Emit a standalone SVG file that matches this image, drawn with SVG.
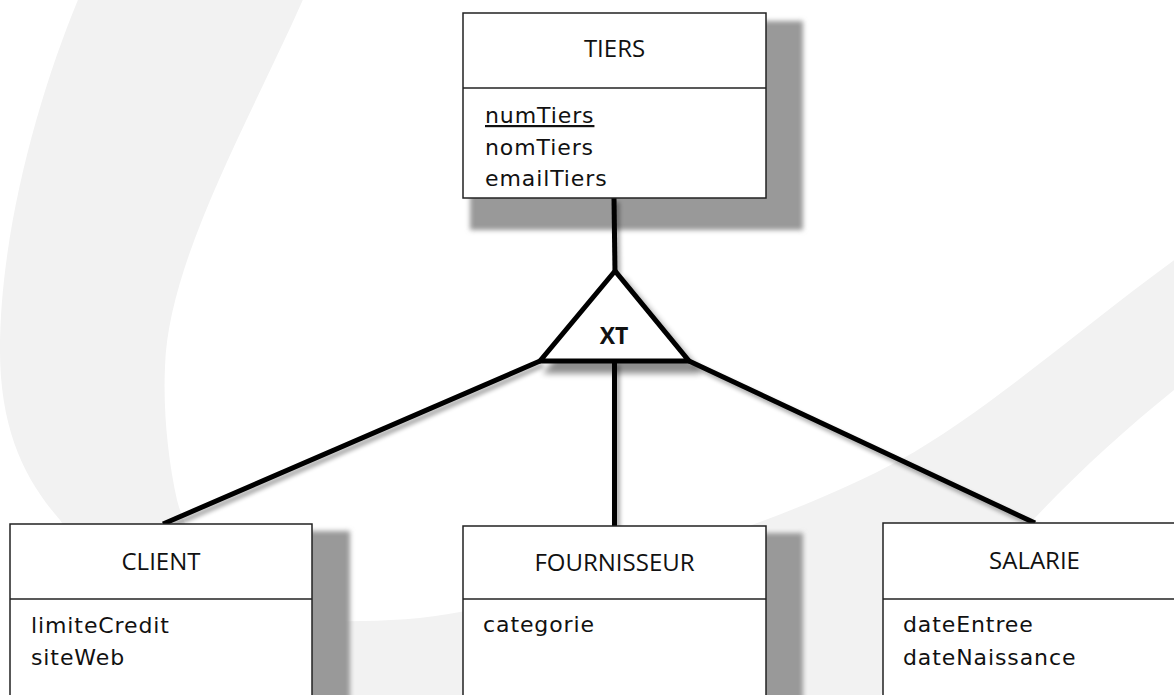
<svg xmlns="http://www.w3.org/2000/svg" width="1174" height="695" viewBox="0 0 1174 695">
<style>
.bg{fill:#f2f2f2}
.box{fill:#fff;stroke:#222;stroke-width:1.5}
.div{stroke:#222;stroke-width:1.5}
.shadow{fill:#999;filter:url(#blur)}
.title{font-family:"Open Sans","Liberation Sans",sans-serif;font-size:24px;fill:#111;text-anchor:middle}
.attr{font-family:"DejaVu Sans","Liberation Sans",sans-serif;font-size:22px;letter-spacing:0.9px;fill:#111}
.conn{stroke:#000;stroke-width:5;fill:none}
.xt{font-family:"Open Sans","Liberation Sans",sans-serif;font-size:23px;font-weight:bold;fill:#111;text-anchor:middle}
</style>
<defs>
<filter id="blur" x="-10%" y="-10%" width="120%" height="120%"><feGaussianBlur stdDeviation="2.5"/></filter>
<filter id="ds" x="-20%" y="-20%" width="140%" height="140%">
<feGaussianBlur in="SourceAlpha" stdDeviation="2"/><feOffset dx="3" dy="4"/>
<feComponentTransfer><feFuncA type="linear" slope="0.35"/></feComponentTransfer>
<feMerge><feMergeNode/><feMergeNode in="SourceGraphic"/></feMerge>
</filter>
<filter id="tds" x="-20%" y="-20%" width="140%" height="150%">
<feGaussianBlur in="SourceAlpha" stdDeviation="3"/><feOffset dx="8" dy="10"/>
<feComponentTransfer><feFuncA type="linear" slope="0.45"/></feComponentTransfer>
<feMerge><feMergeNode/><feMergeNode in="SourceGraphic"/></feMerge>
</filter>
</defs>
<rect width="1174" height="695" fill="#fff"/>
<path class="bg" d="M80,-5 C40,90 0,230 0,350 C0,430 25,480 60,520 C100,580 150,650 190,720 L858,720 C930,640 1000,560 1033,520 C1080,470 1130,425 1184,382 L1184,253 C1090,320 990,410 900,460 C790,520 600,580 460,612 C420,620 370,622 330,621 C260,618 195,570 177,500 C168,460 163,410 165,367 C168,260 250,120 305,-5 Z"/>
<g id="shadows">
<rect class="shadow" x="470" y="21" width="333" height="209"/>
<rect class="shadow" x="17" y="531" width="333" height="200"/>
<rect class="shadow" x="470" y="533" width="333" height="200"/>
<rect class="shadow" x="890" y="530" width="333" height="200"/>
</g>
<g id="connectors" filter="url(#ds)">
<line class="conn" x1="614" y1="198" x2="615" y2="272"/>
<line class="conn" x1="540" y1="361" x2="163" y2="524"/>
<line class="conn" x1="614.5" y1="361" x2="614.5" y2="526"/>
<line class="conn" x1="689" y1="361" x2="1035" y2="523"/>
</g>
<g id="XT">
<polygon points="615,271 540,361 689,361" fill="#fff" stroke="#000" stroke-width="5" stroke-linejoin="miter" filter="url(#tds)"/>
<text class="xt" x="614" y="344">XT</text>
</g>
<g id="TIERS">
<rect class="box" x="463" y="13" width="303" height="185"/>
<line class="div" x1="463" y1="88" x2="766" y2="88"/>
<text class="title" x="614.5" y="57">TIERS</text>
<text class="attr" x="485" y="123" text-decoration="underline">numTiers</text>
<text class="attr" x="485" y="154.5">nomTiers</text>
<text class="attr" x="485" y="186">emailTiers</text>
</g>
<g id="CLIENT">
<rect class="box" x="10" y="524" width="302" height="200"/>
<line class="div" x1="10" y1="599" x2="312" y2="599"/>
<text class="title" x="161" y="570">CLIENT</text>
<text class="attr" x="31" y="633">limiteCredit</text>
<text class="attr" x="31" y="665">siteWeb</text>
</g>
<g id="FOURNISSEUR">
<rect class="box" x="463" y="526" width="303" height="200"/>
<line class="div" x1="463" y1="599" x2="766" y2="599"/>
<text class="title" x="614.5" y="571">FOURNISSEUR</text>
<text class="attr" x="483" y="632">categorie</text>
</g>
<g id="SALARIE">
<rect class="box" x="883" y="523" width="303" height="200"/>
<line class="div" x1="883" y1="599" x2="1186" y2="599"/>
<text class="title" x="1034.5" y="569">SALARIE</text>
<text class="attr" x="903" y="632">dateEntree</text>
<text class="attr" x="903" y="665">dateNaissance</text>
</g>
</svg>
